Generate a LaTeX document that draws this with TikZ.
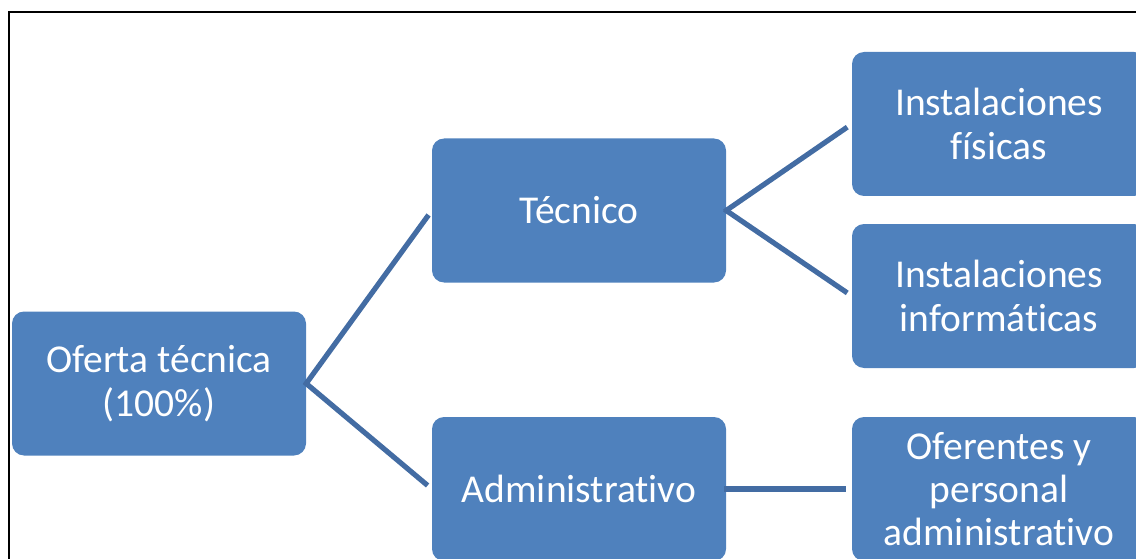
\documentclass[tikz,border=0pt]{standalone}
\usepackage{fontspec}
\setmainfont{Carlito}[Ligatures=NoCommon]
\definecolor{boxblue}{HTML}{4F81BD}
\definecolor{lineblue}{HTML}{436CA3}
\tikzset{
  hbox/.style={draw=none, fill=boxblue, rounded corners=12pt, minimum width=294pt, minimum height=144pt,
    inner sep=0pt, text=white, align=center, font=\fontsize{39.5}{43.5}\selectfont},
  conn/.style={draw=lineblue, line width=5.2pt, shorten <=-2pt, shorten >=5.5pt},
}
\begin{document}
\begin{tikzpicture}[x=1pt,y=-1pt]
\useasboundingbox (0,0) rectangle (1136,559);
\clip (0,0) rectangle (1136,559);
\draw[black, line width=2pt] (9,12) rectangle (1150,580);
\node[hbox] (of) at (159,383.5) {Oferta técnica\\(100\%)};
\node[hbox] (te) at (579,210.5) {Técnico};
\node[hbox] (ad) at (579,489) {Administrativo};
\node[hbox] (fi) at (999,124) {Instalaciones\\físicas};
\node[hbox] (in) at (999,296) {Instalaciones\\informáticas};
\node[hbox, font=\fontsize{39.5}{43}\selectfont] (op) at (999,489) {Oferentes y\\personal\\administrativo};
\draw[conn] (of.east) -- (te.west);
\draw[conn] (of.east) -- (ad.west);
\draw[conn] (te.east) -- (fi.west);
\draw[conn] (te.east) -- (in.west);
\draw[conn] (ad.east) -- (op.west);
\end{tikzpicture}
\end{document}
